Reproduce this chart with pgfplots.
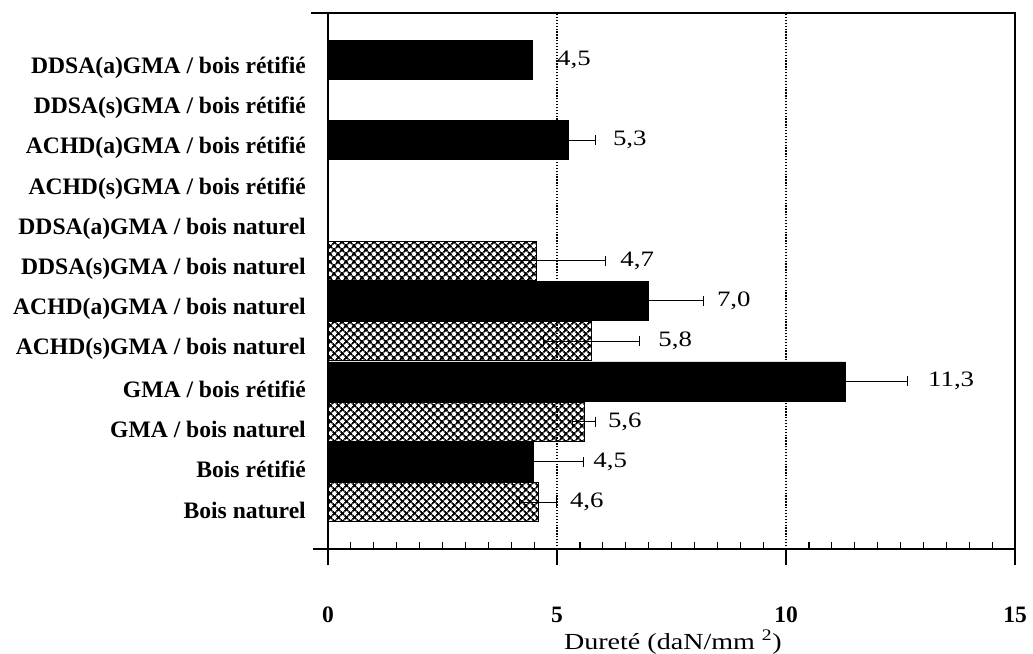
\documentclass[border=0pt]{standalone}
\usepackage{fontspec}
\setmainfont{Liberation Serif}
\newfontfamily\widefont{Liberation Serif}[FakeStretch=1.22]
\usepackage{pgfplots}
\usepackage{pgfplotstable}
\pgfplotsset{compat=1.18}
\usetikzlibrary{patterns.meta}

% bois naturel / (s) series : hatched
\pgfplotstableread{
y v e
0 4.59 0.40
2 5.59 0.25
4 5.76 1.05
6 4.56 1.50
}\nat
% bois retifie / (a) series : black
\pgfplotstableread{
y v e
1 4.48 1.10
3 11.29 1.37
5 6.99 1.20
9 5.24 0.60
}\ret
% bar without visible error bar
\pgfplotstableread{
y v
11 4.45
}\retnoerr

\begin{document}
\begin{tikzpicture}
\path[use as bounding box] (0,0) rectangle (1033pt,653pt);
\begin{axis}[
  at={(328pt,104pt)}, anchor=south west,
  scale only axis, width=687pt, height=536pt,
  xmin=0, xmax=15, ymin=-1.169, ymax=12.164,
  axis line style={line width=1.2pt, black},
  xtick={0,5,10,15},
  minor x tick num=9,
  xtick pos=left,
  tick align=outside,
  major tick length=16pt, minor tick length=7pt,
  every tick/.style={black, line width=1.2pt},
  minor x tick style={yshift=7pt, line width=1.2pt},
  xmajorgrids,
  major grid style={black, line width=1.3pt, dash pattern=on 1.3pt off 1.6pt},
  /pgf/number format/assume math mode=true,
  xticklabel style={font=\bfseries\fontsize{23.5}{26}\selectfont, anchor=center, yshift=-50pt},
  ytick={0,...,11},
  yticklabels={Bois naturel, Bois rétifié, GMA / bois naturel, GMA / bois rétifié,
    ACHD(s)GMA / bois naturel, ACHD(a)GMA / bois naturel, DDSA(s)GMA / bois naturel,
    DDSA(a)GMA / bois naturel, ACHD(s)GMA / bois rétifié, ACHD(a)GMA / bois rétifié,
    DDSA(s)GMA / bois rétifié, DDSA(a)GMA / bois rétifié},
  ytick style={draw=none},
  yticklabel style={font=\bfseries\fontsize{23.6}{26}\selectfont, anchor=east, inner sep=0pt, xshift=-6pt, yshift=-8pt},
  xlabel={Dureté (daN/mm \textsuperscript{2})},
  xlabel style={font=\widefont\fontsize{23}{26}\selectfont, at={(axis description cs:0.502,0)}, anchor=center, yshift=-93pt},
  xbar, bar width=39pt, bar shift=0pt,
  clip=false,
]
\addplot[draw=black, line width=0.8pt,
  pattern={Lines[angle=45,distance=5.4pt,line width=1.9pt]},
  postaction={pattern={Lines[angle=-45,distance=5.4pt,line width=1.9pt]}},
  error bars/.cd, x dir=both, x explicit, error mark=|,
  error bar style={line width=1pt, black},
  error mark options={line width=1pt, mark size=5pt, black, solid}]
  table[x=v, y=y, x error=e] {\nat};
\addplot[draw=black, fill=black,
  error bars/.cd, x dir=both, x explicit, error mark=|,
  error bar style={line width=1pt, black},
  error mark options={line width=1pt, mark size=5pt, black, solid}]
  table[x=v, y=y, x error=e] {\ret};
\addplot[draw=black, fill=black] table[x=v, y=y] {\retnoerr};

\draw[line width=1.2pt] (rel axis cs:0,1) -- ([xshift=-17pt]rel axis cs:0,1);
\draw[line width=1.2pt] (rel axis cs:0,0) -- ([xshift=-15pt]rel axis cs:0,0);

\begin{scope}[every node/.style={font=\widefont\fontsize{22}{24}\selectfont, anchor=west, inner sep=0pt}]
\node at (axis cs:5.28,0) {4,6};
\node at (axis cs:5.79,1) {4,5};
\node at (axis cs:6.11,2) {5,6};
\node at (axis cs:13.10,3) {11,3};
\node at (axis cs:7.21,4) {5,8};
\node at (axis cs:8.49,5) {7,0};
\node at (axis cs:6.38,6) {4,7};
\node at (axis cs:6.22,9) {5,3};
\node at (axis cs:5.00,11) {4,5};
\end{scope}
\end{axis}
\end{tikzpicture}
\end{document}
